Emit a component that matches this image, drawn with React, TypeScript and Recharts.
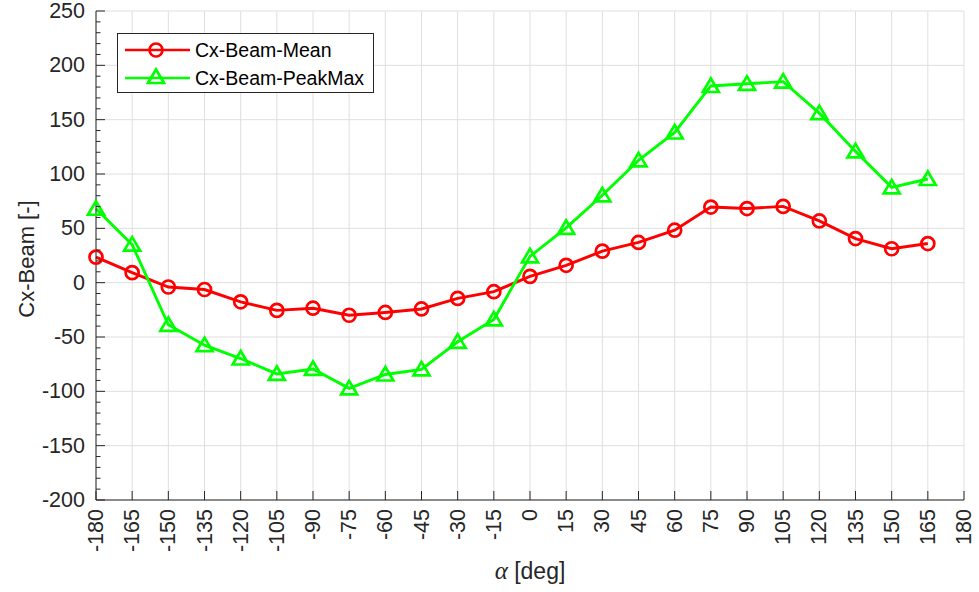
import React from 'react';
import { LineChart, Line, XAxis, YAxis, CartesianGrid, Legend } from 'recharts';

// ---- data ----
const alpha = [-180, -165, -150, -135, -120, -105, -90, -75, -60, -45, -30, -15, 0, 15, 30, 45, 60, 75, 90, 105, 120, 135, 150, 165];
const cxBeamMean = [23.5, 9.2, -4, -6.3, -17.6, -25.5, -23.5, -30, -27.4, -24.2, -14.5, -8.3, 5.8, 16, 29, 37, 48.3, 69.6, 68.2, 70.2, 56.8, 40.6, 31.2, 36];
const cxBeamPeakMax = [68, 35, -38.8, -57.5, -69.8, -84, -79.4, -97.3, -84.5, -79.8, -54.4, -33.8, 24.2, 50.5, 80.4, 112.5, 138.2, 181, 183, 185, 156, 120.8, 87.7, 95.4];

const xTicks = [-180, -165, -150, -135, -120, -105, -90, -75, -60, -45, -30, -15, 0, 15, 30, 45, 60, 75, 90, 105, 120, 135, 150, 165, 180];
const yMajorTicks = [-200, -150, -100, -50, 0, 50, 100, 150, 200, 250];
const yAllTicks: number[] = [];
for (let v = -200; v <= 250; v += 10) yAllTicks.push(v);

const seriesNames = ['Cx-Beam-Mean', 'Cx-Beam-PeakMax'];

const rows = alpha.map((a, i) => ({ alpha: a, mean: cxBeamMean[i], peak: cxBeamPeakMax[i] }));

// ---- style ----
const RED = '#ff0000';
const GREEN = '#00ff00';
const AXIS = '#262626';
const GRID = '#dfdfdf';
const FONT = "'Liberation Sans', Arial, Helvetica, sans-serif";
const MAJOR = 9;
const MINOR = 4.5;
const TICK_FS = 21.5;
const LEGEND_FS = 19.5;

const CircleDot = (props: any) => {
  const { cx, cy } = props;
  if (cx == null || cy == null) return null;
  return <circle cx={cx} cy={cy} r={6.5} fill="none" stroke={RED} strokeWidth={2.7} />;
};

const triPoints = (cx: number, cy: number) =>
  `${cx},${cy - 7.5} ${cx - 8},${cy + 6} ${cx + 8},${cy + 6}`;

const TriangleDot = (props: any) => {
  const { cx, cy } = props;
  if (cx == null || cy == null) return null;
  return <polygon points={triPoints(cx, cy)} fill="none" stroke={GREEN} strokeWidth={2.7} />;
};

const LeftTick = (props: any) => {
  const { x, y, payload } = props;
  const v = payload.value;
  const major = yMajorTicks.includes(v);
  return (
    <g>
      <line x1={x} y1={y} x2={x + (major ? MAJOR : MINOR)} y2={y} stroke={AXIS} strokeWidth={1} />
      {major && (
        <text x={x - 11} y={y} textAnchor="end" dominantBaseline="central" fontSize={TICK_FS} fontFamily={FONT} fill={AXIS}>
          {v}
        </text>
      )}
    </g>
  );
};

const RightTick = (props: any) => {
  const { x, y, payload } = props;
  const major = yMajorTicks.includes(payload.value);
  return <line x1={x} y1={y} x2={x - (major ? MAJOR : MINOR)} y2={y} stroke={AXIS} strokeWidth={1} />;
};

const TopTick = (props: any) => {
  const { x, y } = props;
  return <line x1={x} y1={y} x2={x} y2={y + MAJOR} stroke={AXIS} strokeWidth={1} />;
};

const BottomTick = (props: any) => {
  const { x, y, payload } = props;
  const ly = y + 9;
  return (
    <g>
      <line x1={x} y1={y} x2={x} y2={y - MAJOR} stroke={AXIS} strokeWidth={1} />
      <text
        x={x}
        y={ly}
        transform={`rotate(-90 ${x} ${ly})`}
        textAnchor="end"
        dominantBaseline="central"
        fontSize={TICK_FS}
        fontFamily={FONT}
        fill={AXIS}
      >
        {payload.value}
      </text>
    </g>
  );
};

const YTitle = () => (
  <text x={26} y={259} transform="rotate(-90 26 259)" textAnchor="middle" dominantBaseline="central" fontSize={22} fontFamily={FONT} fill={AXIS}>
    Cx-Beam [-]
  </text>
);

const XTitle = () => (
  <text x={530} y={579} textAnchor="middle" fontSize={23} fontFamily={FONT} fill={AXIS}>
    <tspan fontFamily="'Liberation Serif', 'DejaVu Serif', serif" fontStyle="italic" fontSize={25}>α</tspan>
    <tspan> [deg]</tspan>
  </text>
);

const LegendBox = () => (
  <svg width={258} height={61} style={{ display: 'block' }}>
    <rect x={0.5} y={0.5} width={256} height={59} fill="#ffffff" stroke={AXIS} strokeWidth={1} />
    <line x1={8} y1={17} x2={73} y2={17} stroke={RED} strokeWidth={2.7} />
    <circle cx={39} cy={17} r={6.5} fill="none" stroke={RED} strokeWidth={2.7} />
    <text x={78} y={17} dominantBaseline="central" fontSize={LEGEND_FS} fontFamily={FONT} fill="#000">
      {seriesNames[0]}
    </text>
    <line x1={8} y1={45} x2={73} y2={45} stroke={GREEN} strokeWidth={2.7} />
    <polygon points={triPoints(39, 44)} fill="none" stroke={GREEN} strokeWidth={2.7} />
    <text x={78} y={45} dominantBaseline="central" fontSize={LEGEND_FS} fontFamily={FONT} fill="#000">
      {seriesNames[1]}
    </text>
  </svg>
);

export default function App() {
  return (
    <div style={{ position: 'absolute', left: 0, top: 0, background: '#fff' }}>
      <LineChart width={979} height={592} data={rows} margin={{ top: 11, right: 15, bottom: 0, left: 0 }}>
        <CartesianGrid
          xAxisId="x"
          yAxisId="y"
          stroke={GRID}
          strokeWidth={1}
          horizontalValues={yMajorTicks}
          verticalValues={xTicks}
        />
        <XAxis
          xAxisId="x"
          dataKey="alpha"
          type="number"
          domain={[-180, 180]}
          ticks={xTicks}
          interval={0}
          height={92}
          tickSize={0}
          tickMargin={0}
          tickLine={false}
          axisLine={{ stroke: AXIS, strokeWidth: 1 }}
          tick={<BottomTick />}
          label={<XTitle />}
        />
        <XAxis
          xAxisId="top"
          orientation="top"
          dataKey="alpha"
          type="number"
          domain={[-180, 180]}
          allowDataOverflow
          ticks={xTicks}
          interval={0}
          height={0}
          tickSize={0}
          tickMargin={0}
          tickLine={false}
          axisLine={{ stroke: AXIS, strokeWidth: 1 }}
          tick={<TopTick />}
        />
        <YAxis
          yAxisId="y"
          type="number"
          domain={[-200, 250]}
          ticks={yAllTicks}
          interval={0}
          width={96}
          tickSize={0}
          tickMargin={0}
          tickLine={false}
          axisLine={{ stroke: AXIS, strokeWidth: 1 }}
          tick={<LeftTick />}
          label={<YTitle />}
        />
        <YAxis
          yAxisId="right"
          orientation="right"
          dataKey="mean"
          type="number"
          domain={[-200, 250]}
          allowDataOverflow
          ticks={yAllTicks}
          interval={0}
          width={0}
          tickSize={0}
          tickMargin={0}
          tickLine={false}
          axisLine={{ stroke: AXIS, strokeWidth: 1 }}
          tick={<RightTick />}
        />
        <Legend
          layout="horizontal"
          verticalAlign="middle"
          align="center"
          wrapperStyle={{ left: 117, top: 33, width: 258, height: 61 }}
          content={<LegendBox />}
        />
        <Line
          xAxisId="x"
          yAxisId="y"
          dataKey="mean"
          name={seriesNames[0]}
          stroke={RED}
          strokeWidth={2.9}
          dot={<CircleDot />}
          activeDot={false}
          isAnimationActive={false}
        />
        <Line
          xAxisId="x"
          yAxisId="y"
          dataKey="peak"
          name={seriesNames[1]}
          stroke={GREEN}
          strokeWidth={2.9}
          dot={<TriangleDot />}
          activeDot={false}
          isAnimationActive={false}
        />
      </LineChart>
    </div>
  );
}
